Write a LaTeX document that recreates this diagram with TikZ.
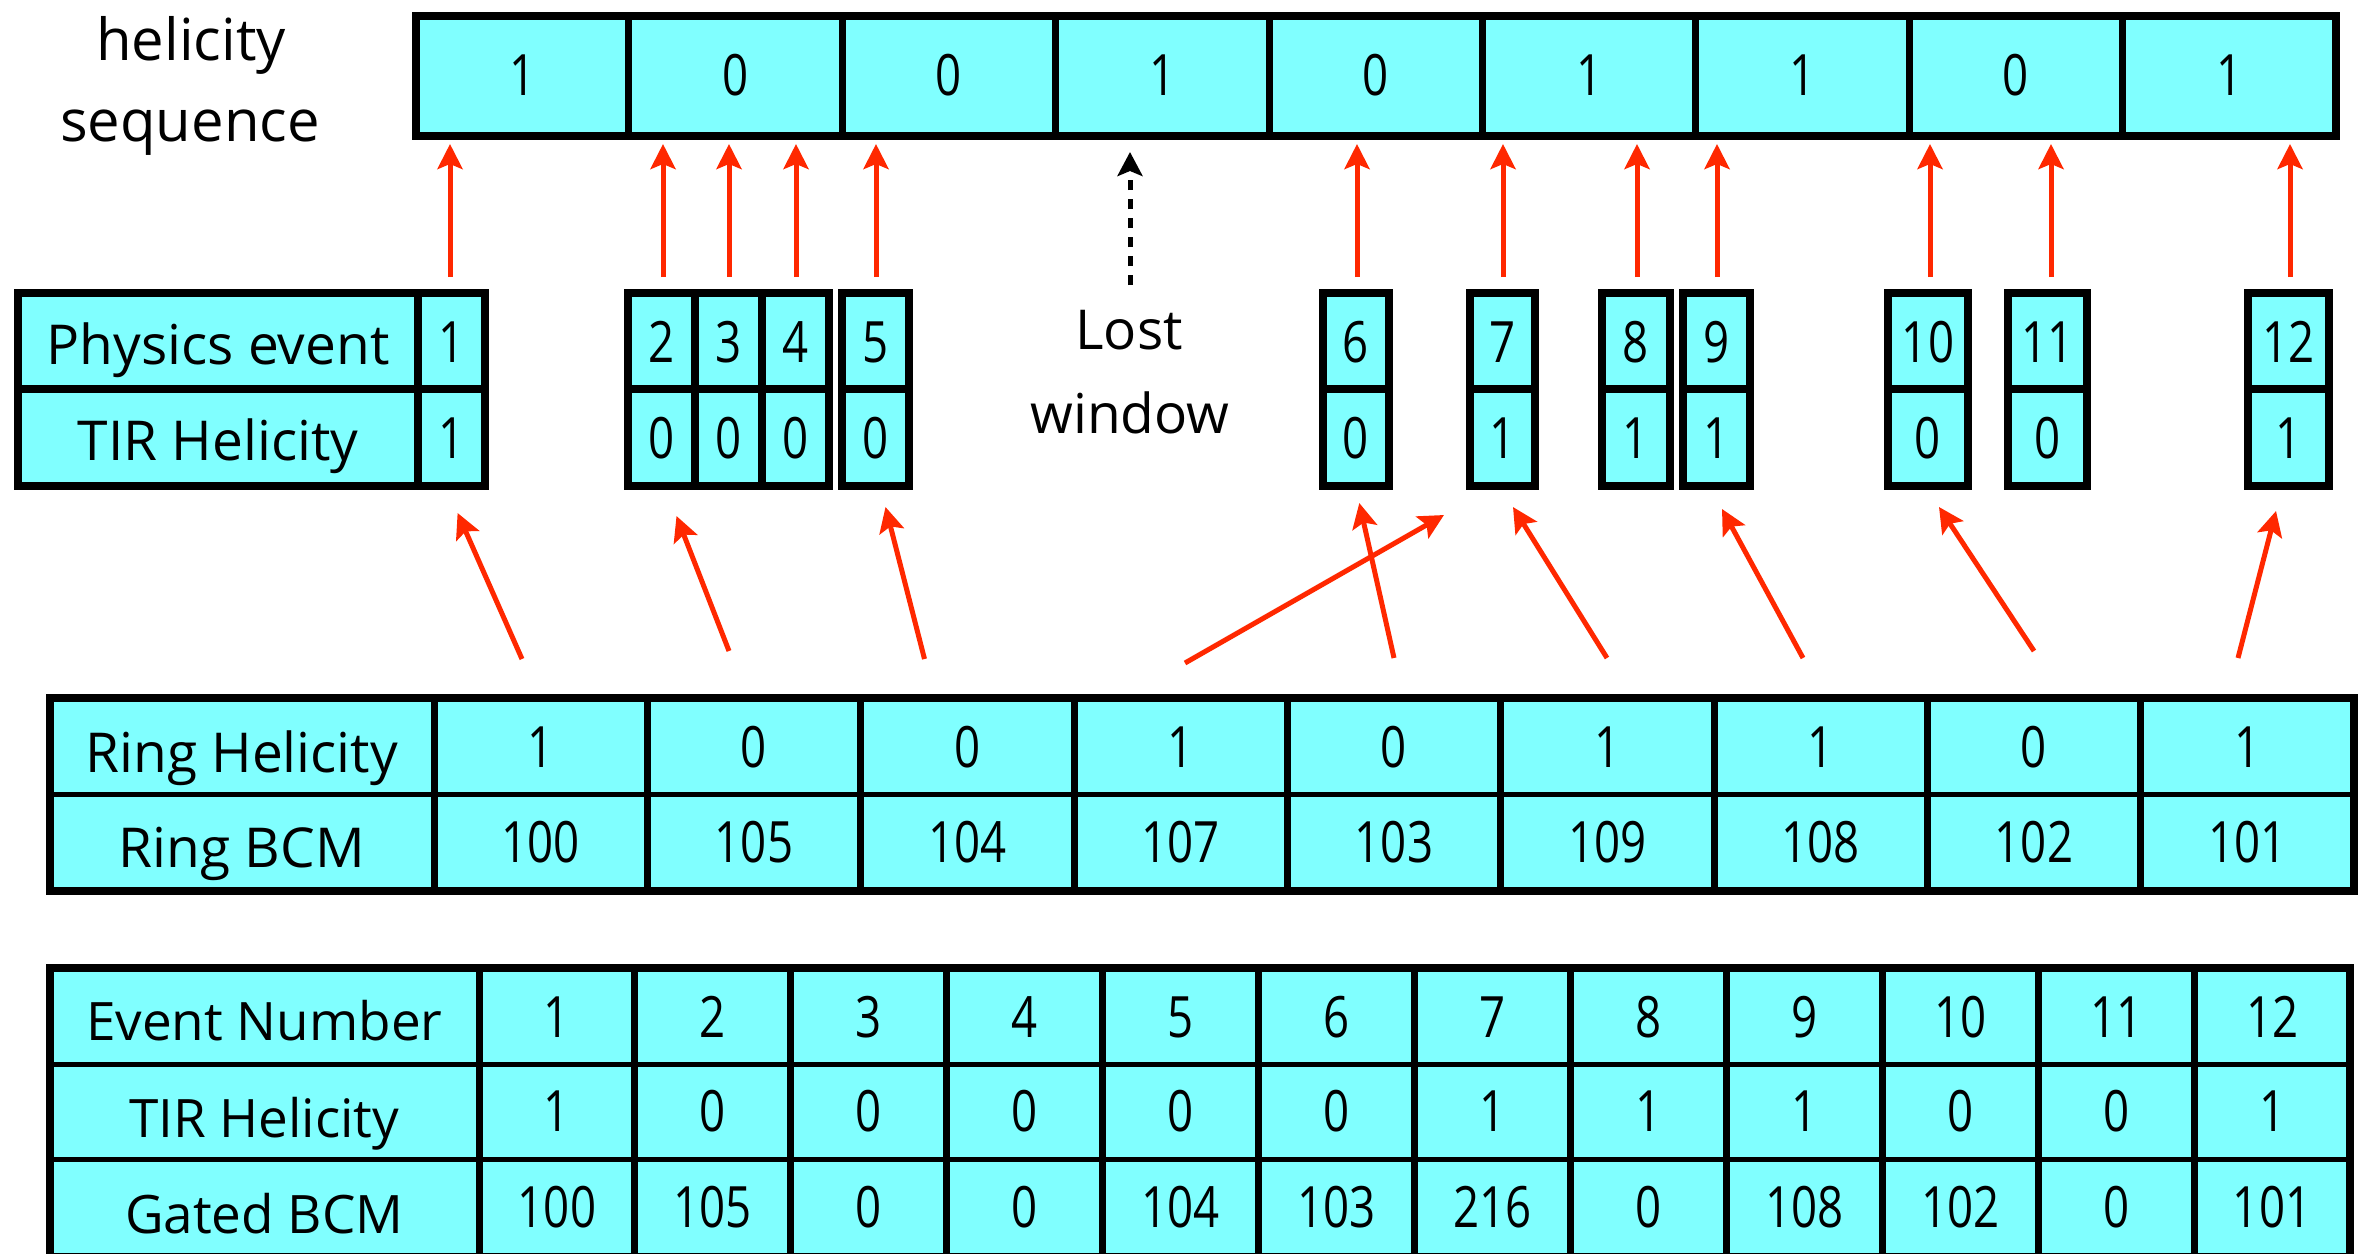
\documentclass[tikz,border=0pt]{standalone}
\usepackage{fontspec}
\setmainfont{Open Sans}
\newfontfamily\numfont{Open Sans}[FakeStretch=0.8]
\usetikzlibrary{arrows.meta}
\definecolor{cellcyan}{RGB}{128,255,255}
\definecolor{arrred}{RGB}{255,40,0}
\tikzset{
  lbl/.style={font=\fontsize{55}{60}\selectfont, anchor=base, inner sep=0pt},
  lblsm/.style={font=\fontsize{53}{60}\selectfont, anchor=base, inner sep=0pt},
  num/.style={font=\numfont\fontsize{57}{60}\selectfont, anchor=base, inner sep=0pt},
  redarr/.style={draw=arrred, line width=5pt, -{Stealth[length=25pt,width=25pt,inset=5pt]}},
  lostarr/.style={draw=black, line width=5pt, dash pattern=on 10pt off 9pt, -{Stealth[length=24pt,width=25pt,inset=5pt]}},
  frame/.style={line width=8pt},
  vdiv/.style={line width=7pt},
  hdiv/.style={line width=5pt},
}
\begin{document}
\begin{tikzpicture}[x=1pt,y=-1pt]
\useasboundingbox (0,0) rectangle (2364,1253);

% ---------- helicity sequence bar ----------
\node[font=\fontsize{58}{60}\selectfont, anchor=base, inner sep=0pt] (hs1) at (191,60) {helicity};
\node[font=\fontsize{58}{60}\selectfont, anchor=base, inner sep=0pt] (hs2) at (190,141) {sequence};
\fill[cellcyan] (415.5,16) rectangle (2336,136);
\foreach \i in {1,...,8} \draw[vdiv] ({415.5+\i*213.39},16) -- ++(0,120);
\draw[frame] (415.5,16) rectangle (2336,136);
\foreach \v [count=\i] in {1,0,0,1,0,1,1,0,1}
  \node[num] (h\i) at ({415.5+(\i-0.5)*213.39},95) {\v};

% ---------- physics event boxes ----------
\foreach \a/\b in {18/484.5, 628.3/829, 842/909, 1323/1389, 1470/1535, 1602/1669.5, 1683/1749.5, 1888/1968, 2008/2087, 2248/2328.5} {
  \fill[cellcyan] (\a,293) rectangle (\b,486);
}
\foreach \x in {418, 695.3, 762} \draw[frame] (\x,293) -- (\x,486);
\foreach \a/\b in {18/484.5, 628.3/829, 842/909, 1323/1389, 1470/1535, 1602/1669.5, 1683/1749.5, 1888/1968, 2008/2087, 2248/2328.5} {
  \draw[frame] (\a,389) -- (\b,389);
  \draw[frame] (\a,293) rectangle (\b,486);
}
\node[lbl] (pel) at (218,364) {Physics event};
\node[lbl] (ptl) at (218,460) {TIR Helicity};
\foreach \x/\e/\t [count=\i] in {451.25/1/1, 661.8/2/0, 728.7/3/0, 795.5/4/0, 875.5/5/0, 1356/6/0, 1502.5/7/1, 1635.75/8/1, 1716.25/9/1, 1928/10/0, 2047.5/11/0, 2288.25/12/1} {
  \node[num] (pe\i) at (\x,362) {\e};
  \node[num] (pt\i) at (\x,458) {\t};
}
\node[lbl] (lost1) at (1129,349) {Lost};
\node[lbl] (lost2) at (1130,433) {window};

% ---------- arrows up to the helicity sequence ----------
\foreach \x [count=\i] in {450, 663, 729, 796, 876, 1357, 1503, 1637, 1717, 1930, 2051, 2290} {
  \coordinate (ut\i) at (\x,277);
  \coordinate (uh\i) at (\x,144);
  \draw[redarr] (ut\i) -- (uh\i);
}
\coordinate (lwt) at (1130,285);
\coordinate (lwh) at (1130,152);
\draw[lostarr] (lwt) -- (lwh);

% ---------- arrows from the ring table ----------
\foreach \tx/\ty/\hx/\hy [count=\i] in {522/659/457.6/513, 729/651/676.5/516, 924.5/659/885.5/507, 1185/663/1444/515, 1394/658/1359.3/503, 1607/658/1513/507, 1803/658/1722/509, 2034/651/1939/507, 2238/658/2276/511} {
  \coordinate (mt\i) at (\tx,\ty);
  \coordinate (mh\i) at (\hx,\hy);
  \draw[redarr] (mt\i) -- (mh\i);
}

% ---------- ring table ----------
\fill[cellcyan] (49.5,698) rectangle (2354,890.5);
\draw[hdiv] (49.5,794) -- (2354,794);
\foreach \i in {0,...,8} \draw[vdiv] ({434+\i*213.33},698) -- ++(0,192.5);
\draw[frame] (49.5,698) rectangle (2354,890.5);
\node[lbl] (rhl) at (241.75,772) {Ring Helicity};
\node[lbl] (rbl) at (241.75,867) {Ring BCM};
\foreach \h/\c [count=\i] in {1/100, 0/105, 0/104, 1/107, 0/103, 1/109, 1/108, 0/102, 1/101} {
  \node[num] (rh\i) at ({434+(\i-0.5)*213.33},767) {\h};
  \node[num] (rb\i) at ({434+(\i-0.5)*213.33},862) {\c};
}

% ---------- event table ----------
\fill[cellcyan] (49.5,968) rectangle (2350,1257);
\draw[hdiv] (49.5,1064.5) -- (2350,1064.5);
\draw[hdiv] (49.5,1159.5) -- (2350,1159.5);
\foreach \i in {0,...,11} \draw[vdiv] ({479+\i*155.92},968) -- ++(0,289);
\draw[frame] (49.5,968) rectangle (2350,1257);
\node[lblsm] (enl) at (264.25,1040) {Event Number};
\node[lblsm] (etl) at (264.25,1137) {TIR Helicity};
\node[lblsm] (ebl) at (264.25,1233) {Gated BCM};
\foreach \t/\g [count=\i] in {1/100, 0/105, 0/0, 0/0, 0/104, 0/103, 1/216, 1/0, 1/108, 0/102, 0/0, 1/101} {
  \node[num] (en\i) at ({479+(\i-0.5)*155.92},1037) {\i};
  \node[num] (et\i) at ({479+(\i-0.5)*155.92},1131) {\t};
  \node[num] (eb\i) at ({479+(\i-0.5)*155.92},1227) {\g};
}
\end{tikzpicture}
\end{document}
